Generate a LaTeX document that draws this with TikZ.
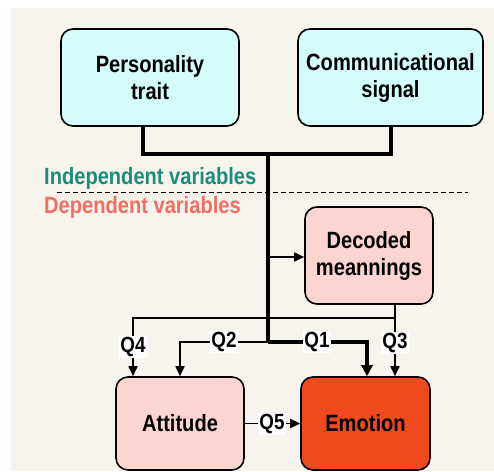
\documentclass[tikz,border=0pt]{standalone}
\usepackage{fontspec}
\setmainfont{Liberation Sans}
\newfontfamily\nbold[FakeStretch=0.855]{Liberation Sans}
\usetikzlibrary{arrows.meta,calc}
\definecolor{bgc}{HTML}{F7F4EE}
\definecolor{cyanbox}{HTML}{D4FCFA}
\definecolor{pinkbox}{HTML}{FDD5D0}
\definecolor{emobox}{HTML}{EE4A1E}
\definecolor{teal}{HTML}{1E8C7A}
\definecolor{salmon}{HTML}{F06E62}
\tikzset{
  box/.style={draw=black, line width=1.6pt, rounded corners=12pt, inner sep=0pt, align=center,
    font=\nbold\fontsize{23.5}{27}\selectfont\bfseries},
  thickline/.style={line width=3.6pt},
  thinline/.style={line width=1.7pt},
  tipS/.style={-{Triangle[length=10pt,width=9pt]}},
  tipL/.style={-{Triangle[length=11pt,width=11pt]}},
  qlab/.style={fill=white, inner sep=1.2pt, font=\nbold\fontsize{22}{22}\selectfont\bfseries},
  vartext/.style={anchor=west, inner sep=0pt, font=\nbold\fontsize{23.5}{23.5}\selectfont\bfseries}
}
\begin{document}
\begin{tikzpicture}[x=1pt,y=-1pt]
\useasboundingbox (0,0) rectangle (494,471);
\fill[white] (0,0) rectangle (494,471);
\fill[bgc] (11,8) rectangle (494,471);

\node[box, fill=cyanbox, minimum width=178pt, minimum height=97pt] (pt) at (150,77.5) {Personality\\trait};
\node[box, fill=cyanbox, minimum width=185pt, minimum height=97pt] (cs) at (390.5,77.5) {Communicational\\signal};
\node[box, fill=pinkbox, minimum width=128pt, minimum height=97pt] (dm) at (369,255.5) {Decoded\\meannings};
\node[box, fill=pinkbox, minimum width=128pt, minimum height=93pt] (att) at (180,423.5) {Attitude};
\node[box, fill=emobox, minimum width=129pt, minimum height=93pt] (emo) at (365.5,423.5) {Emotion};

\node[vartext, text=teal] (iv) at (44,178) {Independent variables};
\node[vartext, text=salmon] (dv) at (44,207) {Dependent variables};
\coordinate (dashL) at (57,192);
\coordinate (dashR) at (468,192);
\draw[line width=1pt, dash pattern=on 5pt off 3pt] (dashL) -- (dashR);

% thick tree
\coordinate (ptb) at ($(pt.south)+(-7,0)$);
\coordinate (csb) at ($(cs.south)+(0.5,0)$);
\coordinate (hub) at (268,154);
\coordinate (q1corner) at (268,342);
\coordinate (emoA) at ($(emo.north)+(1.5,0)$);
\draw[thickline, line join=miter] (ptb) -- (ptb |- hub) -- (csb |- hub) -- (csb);
\draw[thickline] (hub) -- (q1corner);
\draw[thickline, tipL, line join=miter] (q1corner) -- (emoA |- q1corner) -- (emoA);
\node[qlab] (q1) at (317,342) {Q1};

% to decoded
\coordinate (dmj) at (268,257);
\draw[thinline, tipS] (dmj) -- (dmj -| dm.west);

% Q3 / Q4
\coordinate (q3x) at ($(dm.south)+(26,0)$);
\coordinate (barY) at (0,318);
\coordinate (attA) at ($(att.north)+(-47,0)$);
\draw[thinline, tipS] (q3x) -- (q3x |- emo.north);
\draw[thinline, tipS] (q3x |- barY) -- (attA |- barY) -- (attA);
\node[qlab] (q3) at ($(q3x |- barY)+(0,25)$) {Q3};
\node[qlab] (q4) at ($(attA |- barY)+(0,29)$) {Q4};

% Q2
\coordinate (attB) at ($(att.north)+(0,0)$);
\draw[thinline, tipS] (q1corner) -- (attB |- q1corner) -- (attB);
\node[qlab] (q2) at (224,342) {Q2};

% Q5
\draw[thinline, tipS] (att.east) -- (emo.west);
\node[qlab] (q5) at (272,424) {Q5};
\end{tikzpicture}
\end{document}
